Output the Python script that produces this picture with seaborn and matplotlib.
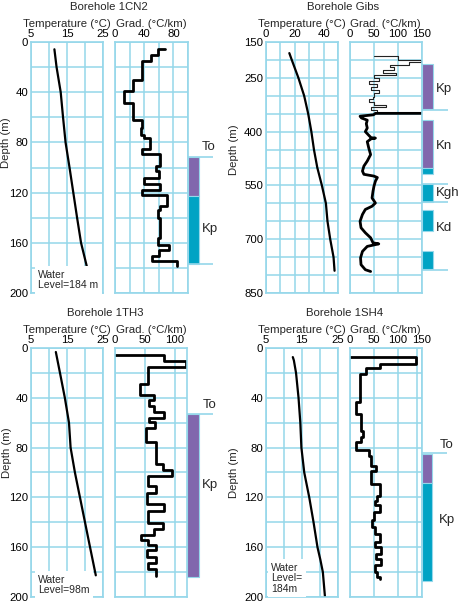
import matplotlib.pyplot as plt
import seaborn as sns
from matplotlib.ticker import FixedLocator

W, H = 461, 605

# ---------------- data ----------------
# Borehole 1CN2
cn2_t_depth = [5.8, 20, 40, 60, 80, 100, 120, 140, 160, 181.7]
cn2_temp = [11.5, 12.1, 13.25, 13.9, 14.6, 15.7, 16.75, 17.8, 18.9, 20.75]
cn2_g_start = 69
cn2_g_edges = [5.3, 10.6, 15.4, 30.0, 39.3, 48.6, 61.9, 68.5, 73.8, 76.5, 85.0, 89.2, 99.0,
               103.0, 108.4, 112.9, 117.7, 122.2, 131.0, 133.6, 140.0, 156.0, 161.5, 166.0,
               170.8, 174.8, 178.2]
cn2_grad = [59, 49, 37, 25, 12.9, 24.4, 36.9, 35.5, 39.2, 47.5, 36.9, 61.3, 56.7, 60, 39.2,
            61.3, 36.9, 71.4, 61.3, 59, 61.3, 58.5, 73.7, 60, 50.7, 85.3]
cn2_unit_top = [91.4, 122.7]
cn2_unit_bot = [122.7, 177.1]
cn2_unit_kind = ["To", "Kp"]
cn2_lines = [91.4, 177.1]
cn2_labels = ["To", "Kp"]
cn2_label_depth = [83.9, 149]

# Borehole Gibs
gib_t_depth = [181, 200, 250, 300, 350, 400, 450, 500, 550, 600, 650, 700, 750, 788]
gib_temp = [16.2, 17.9, 22.5, 26.5, 29.3, 31.5, 33.3, 35.6, 38.8, 41.6, 42.7, 44.6, 46.9, 47.6]
gib_thin_start = 51
gib_thin_edges = [189, 201, 207, 213, 220, 228, 236, 243, 250, 258, 268, 275, 283, 292, 302,
                  310, 318, 325, 332, 340, 348, 349]
gib_thin_grad = [100, 149, 124, 85, 93, 70, 96, 50, 61, 40, 58, 45, 62, 50, 48, 40, 52, 75,
                 45, 58, 50]
gib_thick_depth = [349, 349, 353, 357, 362, 368, 378, 390, 400, 410, 417, 418, 420, 428, 445,
                   464, 482, 496, 510, 519, 524, 528, 538, 552, 566, 585, 599, 608, 617, 631,
                   650, 668, 682, 696, 710, 713, 720, 734, 752, 771, 785, 790]
gib_thick_grad = [150, 54, 50, 22, 25, 37, 35, 37, 33, 40, 45, 54, 45, 37, 40, 44, 37, 30, 27,
                  30, 51, 58, 54, 51, 49, 47, 54, 47, 33, 27, 22, 24, 33, 44, 49, 61, 37, 27,
                  23, 24, 33, 44]
gib_unit_top = [212, 368.5, 502.4, 547, 619.5, 732.7]
gib_unit_bot = [338, 502.4, 517.2, 595.3, 677, 784]
gib_unit_kind = ["Kn", "Kn", "Kp", "Kp", "Kp", "Kp"]
gib_lines = [338.7, 546.5, 597, 787]
gib_labels = ["Kp", "Kn", "Kgh", "Kd"]
gib_label_depth = [280, 441, 570, 669]

# Borehole 1TH3
th3_t_depth = [3.2, 20, 40, 60, 80, 100, 120, 140, 160, 182.6]
th3_temp = [11.9, 13.05, 14.4, 15.55, 16.0, 17.2, 18.6, 20.0, 21.4, 23.0]
th3_g_start = 0
th3_g_edges = [5.4, 10.5, 15.3, 29.2, 37.5, 42.0, 46.8, 51.2, 56.2, 59.6, 64.0, 75.6, 93.0,
               97.6, 103.0, 110.8, 116.5, 125.7, 130.8, 140.8, 145.1, 150.4, 153.9, 158.3,
               162.6, 167.9, 172.6, 177.3, 183.4]
th3_grad = [81.6, 118, 55.5, 42.2, 64.5, 56, 65.5, 81, 56, 67, 52.3, 68.5, 80.5, 94.6, 54.5,
            68, 54, 82, 54.5, 79.4, 64.7, 43.9, 55.2, 69, 54, 69, 55, 68]
th3_unit_top = [52.7]
th3_unit_bot = [183.9]
th3_unit_kind = ["To"]
th3_lines = [52.7]
th3_labels = ["To", "Kp"]
th3_label_depth = [45.5, 110.3]

# Borehole 1SH4
sh4_t_depth = [7.3, 10, 20, 40, 60, 80, 100, 120, 140, 160, 170, 180, 200]
sh4_temp = [12.5, 12.8, 13.4, 14.1, 14.6, 14.9, 15.7, 17.1, 18.3, 19.4, 20.2, 20.9, 21.5]
sh4_g_start = 0
sh4_g_edges = [7.5, 12.8, 16.3, 20.9, 43.6, 52.9, 66.3, 71.7, 75.7, 81.6, 86.4, 94.4, 98.4,
               109.1, 118.5, 122.5, 126.5, 131.8, 138.5, 143.9, 149.2, 155.9, 159.9, 165.3,
               169.3, 174.6, 180.0, 184.0, 185.8]
sh4_grad = [138, 64, 35, 22, 12.6, 23, 28.6, 23, 12.6, 40.5, 45.4, 54.4, 45.4, 63.5, 57.9,
            52.3, 63.5, 50.9, 47.5, 52.3, 63.5, 52.3, 64.9, 54.4, 66.3, 52.3, 57.9, 63.5]
sh4_unit_top = [85.1, 108.7]
sh4_unit_bot = [108.7, 187.4]
sh4_unit_kind = ["To", "Kp"]
sh4_lines = [84.5]
sh4_labels = ["To", "Kp"]
sh4_label_depth = [77.9, 138]

# ---------------- style ----------------
sns.set_theme(style="white")
plt.rcParams["font.family"] = ["Liberation Sans", "DejaVu Sans"]

GRID = "#95d7ea"
UNIT_COLORS = {"To": "#8167ad", "Kn": "#8167ad", "Kp": "#00a3c4"}
FS = 8.2

fig = plt.figure(figsize=(W / 100, H / 100), dpi=100)


def px_axes(x0, y0, x1, y1):
    return fig.add_axes([x0 / W, 1 - y1 / H, (x1 - x0) / W, (y1 - y0) / H])


def style(ax, xlim, xmaj, xmin, ylim, ymaj, ymin, xlabel, ylabel_pos=None):
    ax.set_xlim(*xlim)
    ax.set_ylim(ylim[1], ylim[0])
    ax.xaxis.set_major_locator(FixedLocator(xmaj))
    ax.xaxis.set_minor_locator(FixedLocator(xmin))
    ax.yaxis.set_major_locator(FixedLocator(ymaj))
    ax.yaxis.set_minor_locator(FixedLocator(ymin))
    ax.xaxis.tick_top()
    ax.xaxis.set_label_position("top")
    ax.tick_params(which="both", length=0, labelsize=FS, colors="black")
    ax.tick_params(axis="x", pad=2.5)
    ax.tick_params(axis="y", pad=2.0)
    ax.grid(True, which="both", color=GRID, lw=1.1)
    ax.set_axisbelow(True)
    for s in ax.spines.values():
        s.set_color(GRID)
        s.set_linewidth(1.2)
    ax.set_xlabel(xlabel, fontsize=FS, labelpad=1.0)
    if ylabel_pos is None:
        ax.tick_params(labelleft=False)
        ax.set_ylabel("")
    else:
        ax.set_ylabel("Depth (m)", fontsize=FS)
        ax.yaxis.set_label_coords(*ylabel_pos)


def step_xy(start, edges, vals):
    xs, ys = [start], [edges[0]]
    for v, d0, d1 in zip(vals, edges[:-1], edges[1:]):
        xs += [v, v]
        ys += [d0, d1]
    return xs, ys


def strat(ax, ylim, tops, bots, kinds, lines, labels, label_depth, bar_w, text_x):
    for t, b, k in zip(tops, bots, kinds):
        ax.barh(y=t, width=bar_w, height=b - t, left=0, align="edge",
                color=UNIT_COLORS[k], edgecolor=GRID, linewidth=0.8)
    ax.hlines(lines, 0, 1, color=GRID, lw=1.2)
    for lab, d in zip(labels, label_depth):
        ax.text(text_x, d, lab, fontsize=9.5, ha="left", va="center")
    ax.set_xlim(0, 1)
    ax.set_ylim(ylim[1], ylim[0])
    ax.axis("off")


def water(ax, x, y, txt):
    ax.text(x, y, txt, fontsize=7.5, ha="left", va="bottom", linespacing=1.05,
            bbox=dict(facecolor="white", edgecolor="none", pad=2.5), zorder=3)


d20 = list(range(0, 201, 20))
maj40 = [0, 40, 80, 120, 160, 200]
min20 = [d for d in d20 if d not in maj40]
gib_maj = [150, 250, 400, 550, 700, 850]
gib_min = [d for d in range(150, 851, 50) if d not in gib_maj]

panels = [
    dict(title="Borehole 1CN2", title_xy=(109, 7), tb=(31, 42, 103, 293), gb=(115, 42, 188, 293),
         sb=(188, 42, 213, 293), ylim=(0, 200), ymaj=maj40, ymin=min20,
         tlim=(5, 25), tmaj=[5, 15, 25], tmin=[10, 20],
         glim=(0, 100), gmaj=[0, 40, 80], gmin=[20, 60, 100],
         td=cn2_t_depth, tv=cn2_temp, gs=cn2_g_start, ge=cn2_g_edges, gv=cn2_grad,
         st=(cn2_unit_top, cn2_unit_bot, cn2_unit_kind, cn2_lines, cn2_labels, cn2_label_depth),
         bar_w=0.44, text_x=0.57, ylab=(-0.28, 0.6),
         water=(7.0, 197.8, "Water\nLevel=184 m")),
    dict(title="Borehole Gibs", title_xy=(343, 7), tb=(266, 42, 338, 293), gb=(349.5, 42, 421.5, 293),
         sb=(421.5, 42, 448, 293), ylim=(150, 850), ymaj=gib_maj, ymin=gib_min,
         tlim=(0, 50), tmaj=[0, 20, 40], tmin=[10, 30, 50],
         glim=(0, 150), gmaj=[0, 50, 100, 150], gmin=[],
         td=gib_t_depth, tv=gib_temp, gs=None, ge=None, gv=None,
         st=(gib_unit_top, gib_unit_bot, gib_unit_kind, gib_lines, gib_labels, gib_label_depth),
         bar_w=0.43, text_x=0.56, ylab=(-0.375, 0.57), water=None),
    dict(title="Borehole 1TH3", title_xy=(105, 313), tb=(31, 348, 103, 597), gb=(115, 348, 187, 597),
         sb=(187, 348, 213, 597), ylim=(0, 200), ymaj=maj40, ymin=min20,
         tlim=(5, 25), tmaj=[5, 15, 25], tmin=[10, 20],
         glim=(0, 120), gmaj=[0, 50, 100], gmin=[],
         td=th3_t_depth, tv=th3_temp, gs=th3_g_start, ge=th3_g_edges, gv=th3_grad,
         st=(th3_unit_top, th3_unit_bot, th3_unit_kind, th3_lines, th3_labels, th3_label_depth),
         bar_w=0.46, text_x=0.59, ylab=(-0.265, 0.58),
         water=(7.0, 198.6, "Water\nLevel=98m")),
    dict(title="Borehole 1SH4", title_xy=(345, 313), tb=(266, 348, 337.5, 597), gb=(349.5, 348, 421.5, 597),
         sb=(421.5, 348, 447, 597), ylim=(0, 200), ymaj=maj40, ymin=min20,
         tlim=(5, 25), tmaj=[5, 15, 25], tmin=[10, 20],
         glim=(0, 150), gmaj=[0, 50, 100, 150], gmin=[140],
         td=sh4_t_depth, tv=sh4_temp, gs=sh4_g_start, ge=sh4_g_edges, gv=sh4_grad,
         st=(sh4_unit_top, sh4_unit_bot, sh4_unit_kind, sh4_lines, sh4_labels, sh4_label_depth),
         bar_w=0.43, text_x=0.7, ylab=(-0.375, 0.5),
         water=(6.5, 197.3, "Water\nLevel=\n184m")),
]

for p in panels:
    axt = px_axes(*p["tb"])
    sns.lineplot(x=p["tv"], y=p["td"], sort=False, estimator=None, color="black", lw=1.6, ax=axt)
    style(axt, p["tlim"], p["tmaj"], p["tmin"], p["ylim"], p["ymaj"], p["ymin"],
          "Temperature (°C)", ylabel_pos=p["ylab"])
    if p["water"] is not None:
        water(axt, *p["water"])

    axg = px_axes(*p["gb"])
    if p["gv"] is not None:
        gx, gy = step_xy(p["gs"], p["ge"], p["gv"])
        sns.lineplot(x=gx, y=gy, sort=False, estimator=None, color="black", lw=2.0, ax=axg)
    else:
        gx, gy = step_xy(gib_thin_start, gib_thin_edges, gib_thin_grad)
        sns.lineplot(x=gx, y=gy, sort=False, estimator=None, color="#222222", lw=0.8, ax=axg)
        sns.lineplot(x=gib_thick_grad, y=gib_thick_depth, sort=False, estimator=None,
                     color="black", lw=2.0, ax=axg)
    style(axg, p["glim"], p["gmaj"], p["gmin"], p["ylim"], p["ymaj"], p["ymin"],
          "Grad. (°C/km)")

    axs = px_axes(*p["sb"])
    strat(axs, p["ylim"], *p["st"], bar_w=p["bar_w"], text_x=p["text_x"])

    fig.text(p["title_xy"][0] / W, 1 - p["title_xy"][1] / H, p["title"],
             fontsize=FS, ha="center", va="center")

fig.savefig("out.png", dpi=100)
